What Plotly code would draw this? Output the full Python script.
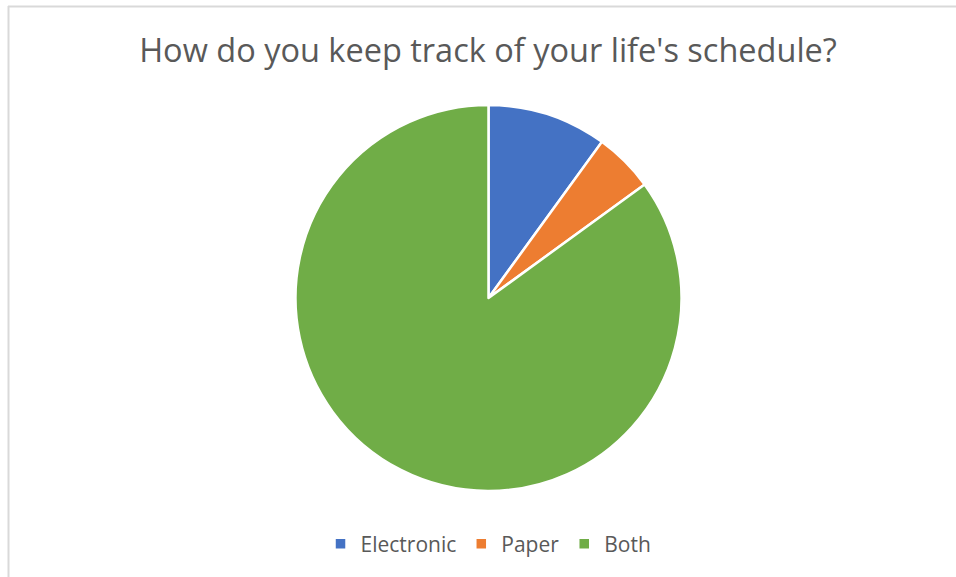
import plotly.graph_objects as go

categories = ["Electronic", "Paper", "Both"]
values = [2, 1, 17]
colors = ["#4472C4", "#ED7D31", "#70AD47"]
title_text = "How do you keep track of your life's schedule?"

W, H = 956, 577
cx, cy, r = 488.5, 298, 193

fig = go.Figure(go.Pie(
    labels=categories, values=values, sort=False, direction="clockwise",
    rotation=0, textinfo="none",
    marker=dict(colors=colors, line=dict(color="white", width=2.5)),
    domain=dict(x=[(cx - r) / W, (cx + r) / W], y=[(H - cy - r) / H, (H - cy + r) / H]),
))

fig.update_layout(
    width=W, height=H,
    margin=dict(l=0, r=0, t=0, b=0),
    paper_bgcolor="white",
    title=dict(text=title_text, x=0.5 + 10 / W, xanchor="center", y=1 - 51 / H, yanchor="middle",
               font=dict(family="Open Sans", size=32.5, color="#595959")),
    legend=dict(orientation="h", x=0.511, xanchor="center", y=(H - 544) / H, yanchor="middle",
                font=dict(family="Open Sans", size=21, color="#595959"),
                itemwidth=30, traceorder="normal"),
    shapes=[
        dict(type="line", xref="paper", yref="paper", x0=8.5 / W, x1=8.5 / W, y0=0, y1=1 - 6 / H,
             line=dict(color="#D9D9D9", width=2)),
        dict(type="line", xref="paper", yref="paper", x0=8 / W, x1=1, y0=1 - 6.5 / H, y1=1 - 6.5 / H,
             line=dict(color="#D9D9D9", width=2)),
    ],
)

fig.write_html("out.html", config={"displayModeBar": False},
               post_script="document.body.style.margin='0px';")
